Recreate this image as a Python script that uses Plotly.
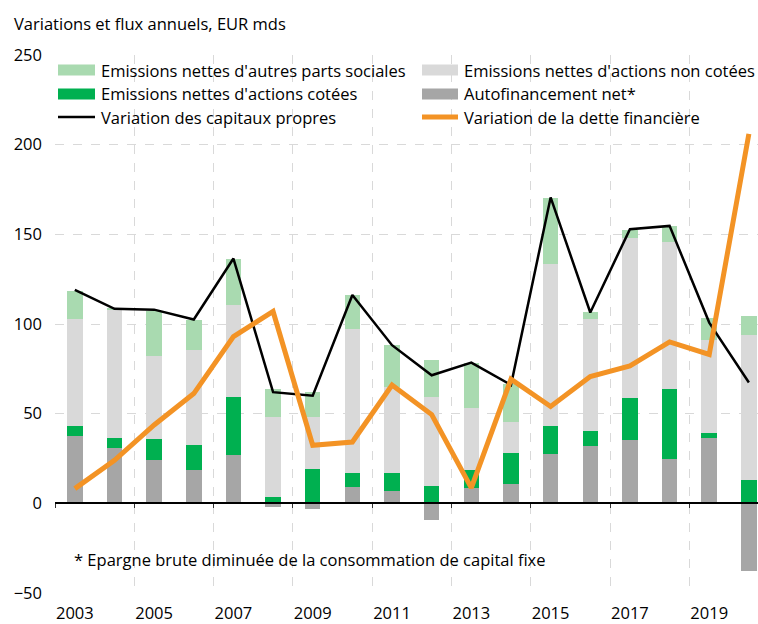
import plotly.graph_objects as go

years = list(range(2003, 2021))

# Stack components (EUR mds)
autofinancement = [37.4, 30.7, 24.2, 18.6, 26.8, -1.9, -3.0, 9.3, 6.9, -9.5, 8.8, 10.6, 27.3, 31.8, 35.2, 24.9, 36.3, -37.8]
actions_cotees = [5.7, 6.0, 11.5, 13.8, 32.5, 3.5, 19.4, 7.4, 9.8, 9.7, 9.6, 17.3, 15.9, 8.6, 23.6, 38.7, 3.1, 13.0]
actions_non_cotees = [59.6, 71.6, 46.2, 53.0, 51.4, 44.5, 28.6, 80.4, 48.2, 49.5, 34.8, 17.5, 90.2, 62.3, 89.3, 82.4, 51.6, 80.8]
autres_parts = [15.8, 0.5, 25.4, 16.7, 25.5, 15.6, 14.1, 19.0, 23.4, 20.8, 24.9, 21.0, 36.6, 4.1, 4.2, 8.7, 12.6, 10.7]

# Lines
capitaux_propres = [119.0, 108.5, 108.0, 102.5, 136.5, 62.0, 60.0, 116.2, 88.2, 71.4, 78.5, 66.0, 170.6, 106.4, 152.9, 154.7, 100.8, 67.4]
dette_financiere = [8.2, 24.0, 43.7, 61.2, 93.0, 107.0, 32.4, 34.2, 66.0, 49.5, 8.6, 69.2, 54.0, 70.7, 76.6, 90.0, 83.0, 206.0]

label_years = list(range(2003, 2021, 2))
boundaries = [y - 0.5 for y in range(2003, 2022, 2)]
y_ticks = list(range(-50, 251, 50))

names = {
    "autres": "Emissions nettes d'autres parts sociales",
    "non_cotees": "Emissions nettes d'actions non cotées",
    "cotees": "Emissions nettes d'actions cotées",
    "auto": "Autofinancement net*",
    "cap": "Variation des capitaux propres",
    "dette": "Variation de la dette financière",
}

C_LGREEN = "#A9DAB0"
C_GREEN = "#00B050"
C_LGRAY = "#D9D9D9"
C_GRAY = "#A6A6A6"
C_BLACK = "#000000"
C_ORANGE = "#F39325"

FONT = "Open Sans"
FS = 16.5
TXT = "#000000"
W, H = 758, 624
ML, MR, MT, MB = 55, 0, 55, 31
PW, PH = W - ML - MR, H - MT - MB


def px(x):
    return (x - ML) / PW


def py(y):
    return (H - MB - y) / PH


fig = go.Figure()
bw = 0.39
for vals, key, col in [
    (autofinancement, "auto", C_GRAY),
    (actions_cotees, "cotees", C_GREEN),
    (actions_non_cotees, "non_cotees", C_LGRAY),
    (autres_parts, "autres", C_LGREEN),
]:
    fig.add_trace(go.Bar(x=years, y=vals, name=names[key], marker_color=col,
                         marker_line_width=0, width=bw, showlegend=False))

fig.add_trace(go.Scatter(x=years, y=capitaux_propres, mode="lines", name=names["cap"],
                         line=dict(color=C_BLACK, width=2.5), xaxis="x2", showlegend=False))
fig.add_trace(go.Scatter(x=years, y=dette_financiere, mode="lines", name=names["dette"],
                         line=dict(color=C_ORANGE, width=5), xaxis="x2", showlegend=False))

xr = [2002.5, 2002.5 + PW / 39.65]

fig.update_layout(
    width=W, height=H,
    margin=dict(l=ML, r=MR, t=MT, b=MB),
    paper_bgcolor="white", plot_bgcolor="white",
    barmode="relative", bargap=0,
    font=dict(family=FONT, size=FS, color=TXT),
    xaxis=dict(range=xr, tickmode="array", tickvals=label_years, ticktext=[str(y) for y in label_years],
               showgrid=False, zeroline=False, showline=False, ticks="", ticklabelstandoff=8,
               tickfont=dict(family=FONT, size=FS, color=TXT)),
    xaxis2=dict(overlaying="x", matches="x", range=xr, anchor="free", position=50 / 300,
                tickmode="array", tickvals=boundaries, showticklabels=False,
                ticks="outside", ticklen=4, tickwidth=1, tickcolor="#333333",
                showline=True, linecolor="#000000", linewidth=1.5,
                showgrid=True, gridcolor="#D9D9D9", griddash="dash", gridwidth=1, zeroline=False),
    yaxis=dict(range=[-50, 250], tickmode="array", tickvals=y_ticks, showgrid=True,
               gridcolor="#D9D9D9", griddash="dash", gridwidth=1, zeroline=False, showline=False,
               ticks="", ticklabelstandoff=12,
               tickfont=dict(family=FONT, size=FS, color=TXT)),
)

shapes = []
annotations = []

# Title
annotations.append(dict(text="Variations et flux annuels, EUR mds", xref="paper", yref="paper",
                        x=px(12), y=py(24), xanchor="left", yanchor="middle", showarrow=False,
                        font=dict(family=FONT, size=FS, color=TXT)))

# Manual legend
rows = [70, 94, 117]
cols = [(58, 95, 99), (422, 458, 462)]
legend_items = [
    (0, 0, "rect", C_LGREEN, names["autres"]),
    (1, 0, "rect", C_LGRAY, names["non_cotees"]),
    (0, 1, "rect", C_GREEN, names["cotees"]),
    (1, 1, "rect", C_GRAY, names["auto"]),
    (0, 2, "line", C_BLACK, names["cap"]),
    (1, 2, "line", C_ORANGE, names["dette"]),
]
for ci, ri, kind, col, txt in legend_items:
    x0, x1, tx = cols[ci]
    yc = rows[ri]
    if kind == "rect":
        shapes.append(dict(type="rect", xref="paper", yref="paper", x0=px(x0), x1=px(x1),
                           y0=py(yc - 5.5), y1=py(yc + 5.5), fillcolor=col, line=dict(width=0)))
    else:
        lw = 2.5 if col == C_BLACK else 5
        shapes.append(dict(type="line", xref="paper", yref="paper", x0=px(x0), x1=px(x1),
                           y0=py(yc), y1=py(yc), line=dict(color=col, width=lw)))
    annotations.append(dict(text=txt, xref="paper", yref="paper", x=px(tx), y=py(yc),
                            xanchor="left", yanchor="middle", showarrow=False,
                            font=dict(family=FONT, size=FS, color=TXT)))

# Footnote
annotations.append(dict(text="* Epargne brute diminuée de la consommation de capital fixe",
                        xref="paper", yref="paper", x=px(72), y=py(559), xanchor="left",
                        yanchor="middle", showarrow=False,
                        font=dict(family=FONT, size=FS, color=TXT)))

fig.update_layout(shapes=shapes, annotations=annotations)

fig.write_html("out.html")
